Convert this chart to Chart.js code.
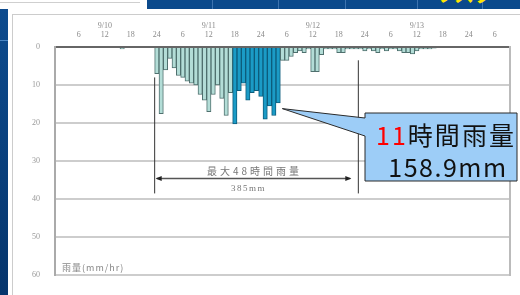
<!DOCTYPE html>
<html>
<head>
<meta charset="utf-8">
<script src="https://cdn.jsdelivr.net/npm/chart.js@4"></script>
<style>
  body { margin: 0; width: 520px; height: 295px; background: #fff; position: relative; overflow: hidden; }
  #topbox { position: absolute; left: 0; top: 0; width: 140px; height: 2px; border-bottom: 1px solid #cfcfcf; }
  #topbar { position: absolute; left: 147px; top: 0; width: 373px; height: 9px; background: #0b4a8c; }
  .sep { position: absolute; top: 0; width: 1px; height: 9px; background: #3d74b0; }
  #ylw { position: absolute; left: 434px; top: -21px; color: #ffe600; font: bold 20px 'Noto Sans CJK JP'; }
  #side { position: absolute; left: 0; top: 9px; width: 8px; height: 286px; background: linear-gradient(#0d4b8e, #06356c); }
  #sideline { position: absolute; left: 0; top: 40px; width: 8px; height: 1px; background: #4a86c4; }
  #panel { position: absolute; left: 12px; top: 14px; width: 508px; height: 281px; border-left: 1px solid #ccc; border-top: 1px solid #ccc; box-sizing: border-box; }
  #wrap { position: absolute; left: 12px; top: 14px; width: 508px; height: 281px; }
</style>
</head>
<body>
<div id="topbox"></div>
<div id="topbar"></div>
<div class="sep" style="left:212px"></div>
<div class="sep" style="left:278px"></div>
<div class="sep" style="left:345px"></div>
<div class="sep" style="left:417px"></div>
<div class="sep" style="left:482px"></div>
<div id="ylw">リスク</div>
<div id="side"></div>
<div id="sideline"></div>
<div id="panel"></div>
<div id="wrap"><canvas id="myChart"></canvas></div>

<script>
// 9/10 1時 から 9/14 9時 までの時間雨量 (mm/hr)
const hourLabels = [];
for (let h = 1; h <= 105; h++) hourLabels.push(String(h));

const dayNames = ['9/10', '9/11', '9/12', '9/13', '9/14'];

const rain = [
  0, 0, 0, 0, 0, 0, 0, 0, 0, 0, 0, 0, 0, 0, 0,
  0.5,
  0, 0, 0, 0, 0, 0, 0,
  7, 17.5, 6, 3, 5.5, 7.5, 8, 9, 9.5, 10, 12.5, 14, 17, 12.5, 10, 13.5, 18, 12,
  20.2, 11.5, 9.5, 14.0, 12.0, 11.5, 13.0, 19.0, 15.5, 18.0, 14.7,
  3.5, 3.5, 2.5, 1.5, 1, 1.5, 0.5, 6.5, 6.5, 2,
  0.5, 0.5, 0.5, 1.5, 1.5, 0.5, 0.5, 0.5, 0.5, 1,
  0.5, 1, 1.5, 0.5, 1, 0.5, 0.5, 1, 1.5, 1.5,
  1.8, 1, 0.5, 0.5, 0.5, 0.3,
  0, 0, 0, 0, 0, 0, 0, 0, 0, 0, 0, 0, 0, 0, 0, 0, 0
];

// 11時間雨量の区間 (インデックス)
const peakStart = 41;
const peakLen = 11;
// 最大48時間雨量の区間
const windowStart = 23;
const windowEnd = 69;

const lightFill = '#b3ddd7', lightLine = '#4f706e';
const darkFill = '#1b9bc6', darkLine = '#0c5c7c';

const fills = rain.map((v, i) => (i >= peakStart && i < peakStart + peakLen) ? darkFill : lightFill);
const lines = rain.map((v, i) => (i >= peakStart && i < peakStart + peakLen) ? darkLine : lightLine);

// 上の目盛: 6時間ごと、12時の上に日付
function hourTick(v, i) {
  if ((i + 1) % 6 !== 0) return '';
  const h = String((i % 24) + 1);
  if (i % 24 === 11) return [dayNames[Math.floor(i / 24)], h];
  return h;
}

function line(ctx, x1, y1, x2, y2) {
  ctx.beginPath();
  ctx.moveTo(x1, y1);
  ctx.lineTo(x2, y2);
  ctx.stroke();
}

function arrowHead(ctx, x, y, dir) {
  ctx.beginPath();
  ctx.moveTo(x, y);
  ctx.lineTo(x - dir * 6, y - 2.5);
  ctx.lineTo(x - dir * 6, y + 2.5);
  ctx.closePath();
  ctx.fill();
}

const annot = {
  id: 'annot',
  afterDraw(chart) {
    const ctx = chart.ctx;
    const xs = chart.scales.x;
    const ys = chart.scales.y;
    const area = chart.chartArea;
    const half = (xs.getPixelForValue(1) - xs.getPixelForValue(0)) / 2;
    const xL = xs.getPixelForValue(windowStart) - half;
    const xR = xs.getPixelForValue(windowEnd) + half;

    ctx.save();
    // 区間の縦線
    ctx.strokeStyle = '#333';
    ctx.lineWidth = 1;
    line(ctx, xL, ys.getPixelForValue(8), xL, ys.getPixelForValue(38.5));
    line(ctx, xR, ys.getPixelForValue(3.5), xR, ys.getPixelForValue(38.5));

    // 矢印
    const ay = ys.getPixelForValue(34.6);
    ctx.strokeStyle = '#555';
    ctx.fillStyle = '#222';
    ctx.lineWidth = 1.5;
    line(ctx, xL + 2, ay, xR - 8, ay);
    arrowHead(ctx, xL + 1, ay, -1);
    arrowHead(ctx, xR - 7, ay, 1);

    // 区間ラベル
    ctx.fillStyle = '#777';
    ctx.textAlign = 'center';
    ctx.textBaseline = 'middle';
    ctx.letterSpacing = '3px';
    ctx.font = "10px 'Noto Sans CJK JP'";
    ctx.fillText('最大48時間雨量', (xL + xR) / 2 - 2, ys.getPixelForValue(32.6));
    ctx.letterSpacing = '1.5px';
    ctx.font = "9px 'Liberation Serif'";
    ctx.fillText('385mm', (xL + xR) / 2 - 8, ys.getPixelForValue(37.3));

    // 軸タイトル
    ctx.textAlign = 'left';
    ctx.letterSpacing = '1px';
    ctx.fillStyle = '#888';
    ctx.font = "9px 'Noto Sans CJK JP'";
    ctx.fillText('雨量(mm/hr)', area.left + 7, area.bottom - 8);

    // 吹き出し
    const bx1 = 353, by1 = 99, bx2 = 505, by2 = 167;
    const tipX = xs.getPixelForValue(peakStart + peakLen - 1) + half + 2;
    const tipY = ys.getPixelForValue(16.2);
    ctx.beginPath();
    ctx.moveTo(bx1, by1);
    ctx.lineTo(bx2, by1);
    ctx.lineTo(bx2, by2);
    ctx.lineTo(bx1, by2);
    ctx.lineTo(bx1, 122);
    ctx.lineTo(tipX, tipY);
    ctx.lineTo(bx1, 104);
    ctx.closePath();
    ctx.fillStyle = '#9dcdf7';
    ctx.fill();
    ctx.strokeStyle = '#2a2a2a';
    ctx.lineWidth = 1;
    ctx.stroke();

    ctx.font = "25px 'Noto Sans CJK JP'";
    ctx.letterSpacing = '2px';
    ctx.textBaseline = 'middle';
    const w1 = ctx.measureText('11').width;
    const w2 = ctx.measureText('時間雨量').width;
    let tx = 434 - (w1 + w2) / 2;
    ctx.fillStyle = '#ff0000';
    ctx.fillText('11', tx, 121);
    ctx.fillStyle = '#111';
    ctx.fillText('時間雨量', tx + w1, 121);
    ctx.textAlign = 'center';
    ctx.letterSpacing = '1.5px';
    ctx.fillText('158.9mm', 436, 153);
    ctx.restore();
  }
};

new Chart('myChart', {
  type: 'bar',
  data: {
    labels: hourLabels,
    datasets: [{
      data: rain,
      backgroundColor: fills,
      borderColor: lines,
      borderWidth: 1,
      barPercentage: 1,
      categoryPercentage: 1
    }]
  },
  options: {
    responsive: true,
    maintainAspectRatio: false,
    animation: false,
    devicePixelRatio: 1,
    layout: { padding: { left: 0, right: 10, top: 0, bottom: 10 } },
    plugins: { legend: { display: false }, tooltip: { enabled: false } },
    scales: {
      x: {
        position: 'top',
        grid: { display: false, drawTicks: false },
        border: { display: false },
        ticks: {
          autoSkip: false, maxRotation: 0, minRotation: 0,
          padding: 7,
          color: '#8a8a8a',
          font: { size: 8, family: 'Liberation Serif', lineHeight: 1.15 },
          callback: hourTick
        },
        afterFit: s => { s.height = 33; }
      },
      y: {
        reverse: true,
        min: 0,
        max: 60,
        ticks: {
          stepSize: 10,
          padding: 15,
          color: '#999',
          font: { size: 8, family: 'Liberation Serif' }
        },
        grid: {
          color: ctx => ctx.tick.value === 0 ? '#666' : '#cdcdcd',
          lineWidth: 2,
          drawTicks: false
        },
        border: { display: true, color: '#aaa', width: 2 },
        afterFit: s => { s.width = 43; }
      },
      y2: {
        position: 'right',
        ticks: { display: false },
        grid: { display: false },
        border: { display: true, color: '#bbb', width: 2 },
        afterFit: s => { s.width = 0; }
      }
    }
  },
  plugins: [annot]
});
</script>
</body>
</html>
